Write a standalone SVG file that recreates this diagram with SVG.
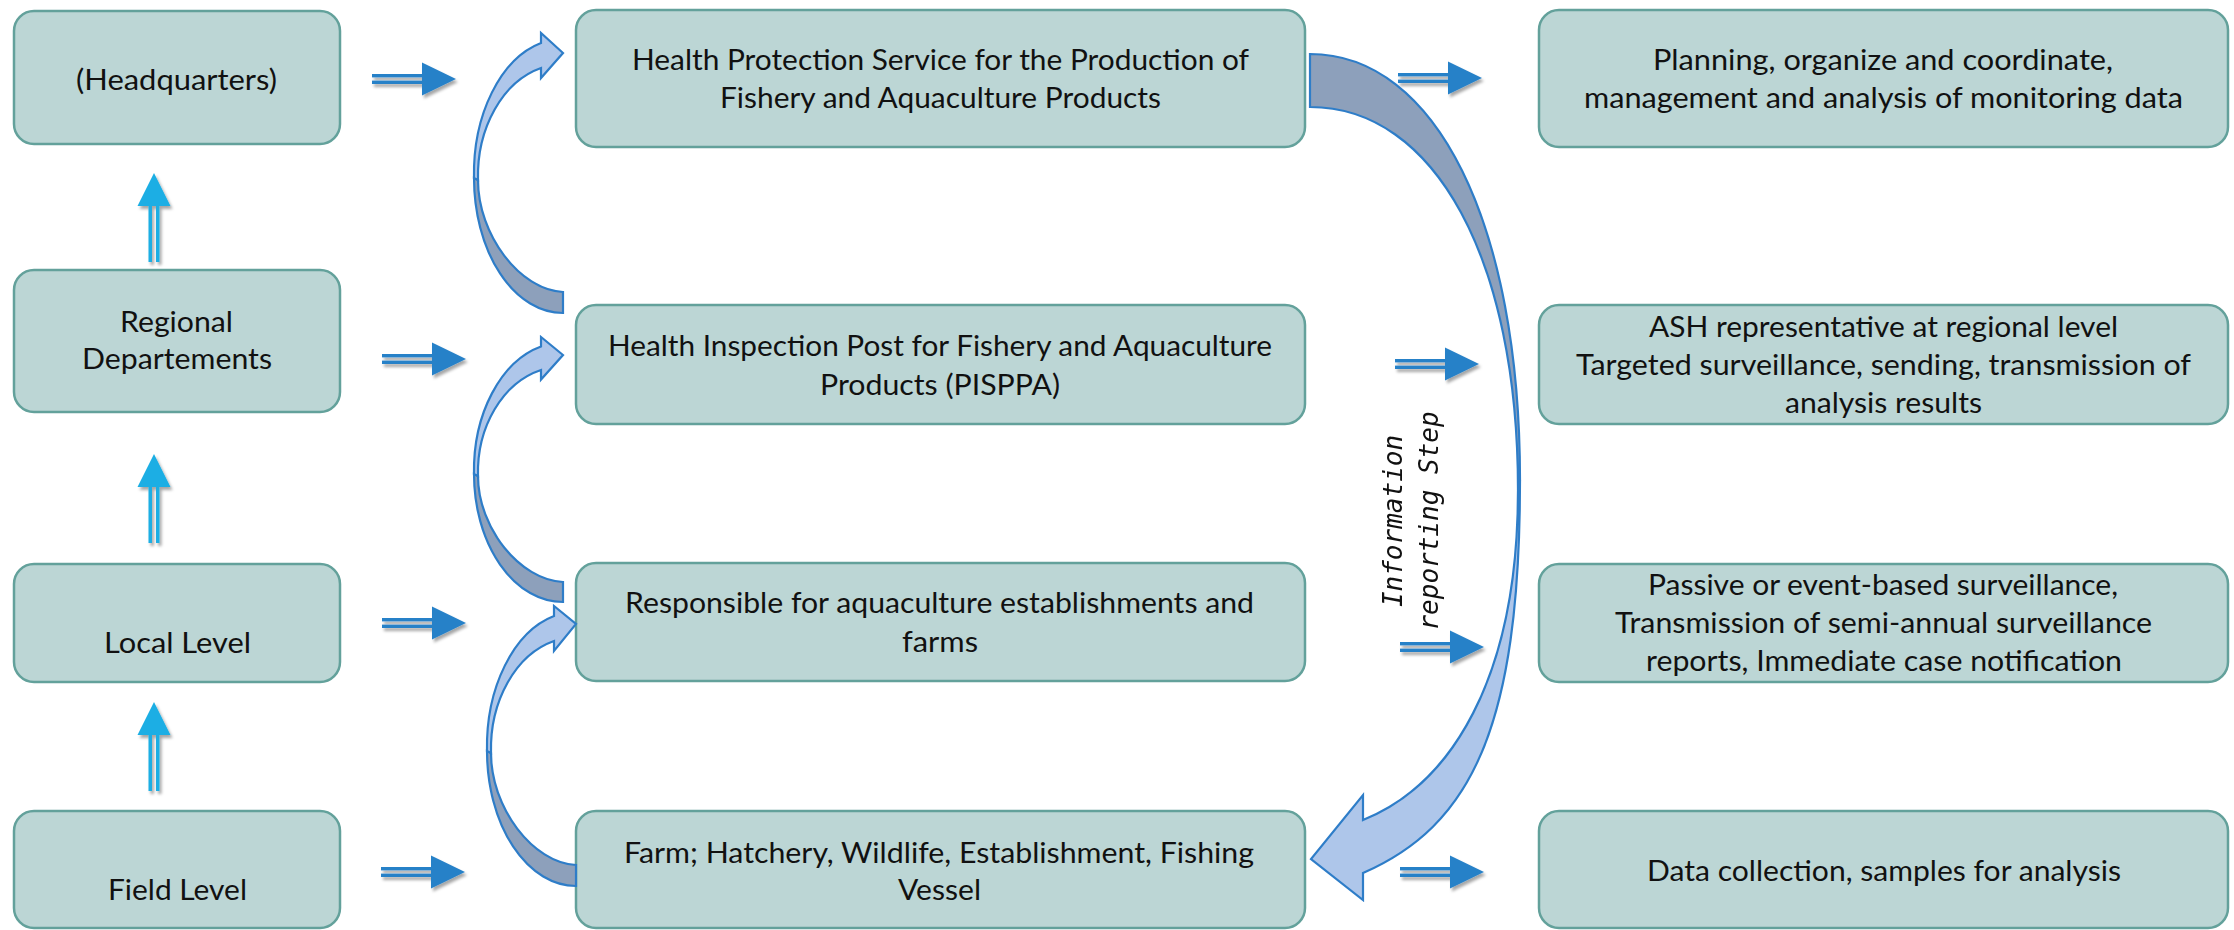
<svg xmlns="http://www.w3.org/2000/svg" width="2234" height="930" viewBox="0 0 2234 930">
<style>
.box{fill:#BCD6D5;stroke:#63A19B;stroke-width:2.5}
.t{font-family:Lato,"Liberation Sans",sans-serif;font-size:29px;fill:#111}
.rt{fill:#2781C8}
.ut{fill:#1DAEE4}
.cl{fill:#AEC6EA;stroke:#2E7DC8;stroke-width:2.2;stroke-linejoin:miter}
.cd{fill:#8DA0BB;stroke:#2E7DC8;stroke-width:2.2;stroke-linejoin:miter}
.mono{font-family:"DejaVu Sans Mono","Liberation Mono",monospace;font-style:italic;font-size:26px;fill:#111}
</style>
<defs>
<filter id="sh" x="-30%" y="-60%" width="170%" height="240%">
<feDropShadow dx="2" dy="3" stdDeviation="1.6" flood-color="#000" flood-opacity="0.35"/>
</filter>
<g id="ra">
<rect x="0" y="-5" width="52" height="3.4"/>
<rect x="0" y="1.6" width="52" height="3.4"/>
<polygon points="50,-16.5 84,0 50,16.5"/>
</g>
<g id="ua">
<rect x="-5.5" y="32" width="3.5" height="57"/>
<rect x="2" y="32" width="3.5" height="57"/>
<polygon points="-16.5,33 0,0 16.5,33"/>
</g>
</defs>
<rect width="2234" height="930" fill="#fff"/>

<g id="hq"><rect class="box" x="14" y="11" width="326" height="133" rx="20"/><text class="t" x="76" y="90" textLength="201" lengthAdjust="spacingAndGlyphs">(Headquarters)</text></g>
<g id="regional"><rect class="box" x="14" y="270" width="326" height="142" rx="20"/><text class="t" x="120" y="332" textLength="113" lengthAdjust="spacingAndGlyphs">Regional</text><text class="t" x="82" y="369" textLength="190" lengthAdjust="spacingAndGlyphs">Departements</text></g>
<g id="local"><rect class="box" x="14" y="564" width="326" height="118" rx="20"/><text class="t" x="104" y="653" textLength="147" lengthAdjust="spacingAndGlyphs">Local Level</text></g>
<g id="field"><rect class="box" x="14" y="811" width="326" height="117" rx="20"/><text class="t" x="108" y="900" textLength="139" lengthAdjust="spacingAndGlyphs">Field Level</text></g>

<g id="hps"><rect class="box" x="576" y="10" width="729" height="137" rx="20"/><text class="t" x="632" y="70" textLength="617" lengthAdjust="spacingAndGlyphs">Health Protection Service for the Production of</text><text class="t" x="720" y="108" textLength="441" lengthAdjust="spacingAndGlyphs">Fishery and Aquaculture Products</text></g>
<g id="pisppa"><rect class="box" x="576" y="305" width="729" height="119" rx="20"/><text class="t" x="608" y="356" textLength="664" lengthAdjust="spacingAndGlyphs">Health Inspection Post for Fishery and Aquaculture</text><text class="t" x="820" y="395" textLength="240" lengthAdjust="spacingAndGlyphs">Products (PISPPA)</text></g>
<g id="resp"><rect class="box" x="576" y="563" width="729" height="118" rx="20"/><text class="t" x="625" y="613" textLength="629" lengthAdjust="spacingAndGlyphs">Responsible for aquaculture establishments and</text><text class="t" x="902" y="652" textLength="76" lengthAdjust="spacingAndGlyphs">farms</text></g>
<g id="farm"><rect class="box" x="576" y="811" width="729" height="117" rx="20"/><text class="t" x="624" y="863" textLength="630" lengthAdjust="spacingAndGlyphs">Farm; Hatchery, Wildlife, Establishment, Fishing</text><text class="t" x="898" y="900" textLength="83" lengthAdjust="spacingAndGlyphs">Vessel</text></g>

<g id="plan"><rect class="box" x="1539" y="10" width="689" height="137" rx="20"/><text class="t" x="1653" y="70" textLength="460" lengthAdjust="spacingAndGlyphs">Planning, organize and coordinate,</text><text class="t" x="1584" y="108" textLength="599" lengthAdjust="spacingAndGlyphs">management and analysis of monitoring data</text></g>
<g id="ash"><rect class="box" x="1539" y="305" width="689" height="119" rx="20"/><text class="t" x="1649" y="337" textLength="469" lengthAdjust="spacingAndGlyphs">ASH representative at regional level</text><text class="t" x="1576" y="375" textLength="615" lengthAdjust="spacingAndGlyphs">Targeted surveillance, sending, transmission of</text><text class="t" x="1785" y="413" textLength="197" lengthAdjust="spacingAndGlyphs">analysis results</text></g>
<g id="passive"><rect class="box" x="1539" y="564" width="689" height="118" rx="20"/><text class="t" x="1648" y="595" textLength="470" lengthAdjust="spacingAndGlyphs">Passive or event-based surveillance,</text><text class="t" x="1615" y="633" textLength="537" lengthAdjust="spacingAndGlyphs">Transmission of semi-annual surveillance</text><text class="t" x="1646" y="671" textLength="476" lengthAdjust="spacingAndGlyphs">reports, Immediate case notification</text></g>
<g id="datacol"><rect class="box" x="1539" y="811" width="689" height="117" rx="20"/><text class="t" x="1647" y="881" textLength="474" lengthAdjust="spacingAndGlyphs">Data collection, samples for analysis</text></g>

<g id="connectors">
<g class="ut" filter="url(#sh)">
<use href="#ua" x="154" y="173"/>
<use href="#ua" x="154" y="454" transform="translate(0,0)"/>
<use href="#ua" x="154" y="702"/>
</g>
<g class="rt" filter="url(#sh)">
<use href="#ra" x="372" y="79"/>
<use href="#ra" x="382" y="359"/>
<use href="#ra" x="382" y="623"/>
<use href="#ra" x="381" y="872"/>
<use href="#ra" x="1398" y="78"/>
<use href="#ra" x="1395" y="364"/>
<use href="#ra" x="1400" y="647"/>
<use href="#ra" x="1400" y="872"/>
</g>
<path class="cd" d="M474,178 A89 135 0 0 0 563,313 L563,292 C520,290 478,235 478,180 Z"/>
<path class="cl" d="M541,43 L541,33 L563,53 L541,78 L541,68 A85 112 0 0 0 478,180 L474,178 A89 135 0 0 1 541,43 Z"/>
<path class="cd" d="M474,474 A89 128 0 0 0 563,602 L563,582 C520,580 478,528 478,476 Z"/>
<path class="cl" d="M541,346.5 L541,337 L563,355 L541,379.6 L541,370 A85 106 0 0 0 478,476 L474,474 A89 128 0 0 1 541,346.5 Z"/>
<path class="cd" d="M487,751 A89 135 0 0 0 576,886 L576,865 C533,863 491,808 491,753 Z"/>
<path class="cl" d="M554,616 L554,606 L576,624 L554,651 L554,641 A85 112 0 0 0 491,753 L487,751 A89 135 0 0 1 554,616 Z"/>
<path class="cd" d="M1310,54 C1436,54 1520,224 1520,480 L1518,490 C1518,260 1435,107 1310,107 Z"/>
<path class="cl" d="M1520,480 C1520,730 1470,826 1363,873 L1363,900 L1311,859 L1363,795 L1363,820 C1450,785 1518,680 1518,490 Z"/>
<text class="mono" transform="translate(1402,521) rotate(-90)" text-anchor="middle"><tspan x="0" y="0">Information</tspan><tspan x="0" y="36">reporting Step</tspan></text>
</g>
</svg>
